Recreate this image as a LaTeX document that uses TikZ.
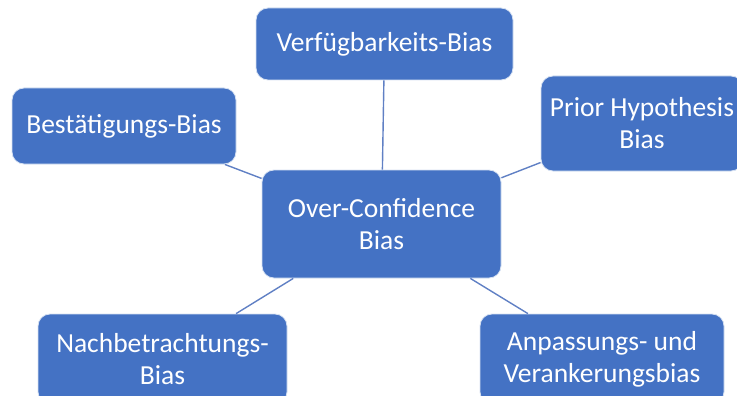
\documentclass[tikz,border=0pt]{standalone}
\usepackage{fontspec}
\setmainfont{Carlito}
\usepackage{tikz}
\usetikzlibrary{positioning}
\definecolor{biasblue}{RGB}{68,114,196}
\definecolor{biasedge}{RGB}{214,225,242}
\definecolor{biasline}{RGB}{96,128,196}

\begin{document}
\begin{tikzpicture}[x=1pt, y=-1pt,
		bias/.style={rectangle, rounded corners=12pt, fill=biasblue, draw=biasedge, line width=0.8pt,
			text=white, align=center, inner sep=0pt, font=\fontsize{27.5}{32}\selectfont},
		link/.style={draw=biasline, line width=1.4pt}]
		\useasboundingbox (0,0) rectangle (737,396);
		\clip (0,0) rectangle (737,396);
		\node[bias, minimum width=239pt, minimum height=108pt] (o) at (381.5,224) {Over-Confidence\\Bias};
		\node[bias, minimum width=257pt, minimum height=72pt] (v) at (384.5,44) {Verfügbarkeits-Bias};
		\node[bias, minimum width=224pt, minimum height=76pt] (b) at (124,126) {Bestätigungs-Bias};
		\node[bias, minimum width=202pt, minimum height=95pt] (p) at (642,123.5) {Prior Hypothesis\\Bias};
		\node[bias, minimum width=249pt, minimum height=90pt] (n) at (162.5,359) {Nachbetrachtungs-\\Bias};
		\node[bias, minimum width=244pt, minimum height=90pt] (a) at (602,359) {Anpassungs- und\\Verankerungsbias};
		\foreach \to in {v,b,p,n,a}
			\draw[link] (o) -- (\to);
	\end{tikzpicture}
\end{document}
